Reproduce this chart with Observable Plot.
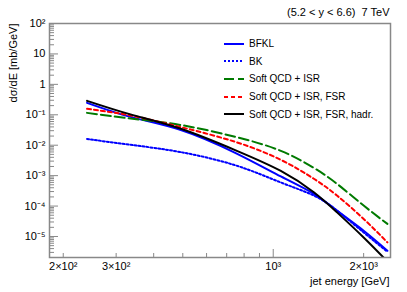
<!DOCTYPE html>
<html><head><meta charset="utf-8">
<script src="https://cdn.jsdelivr.net/npm/d3@7"></script>
<script src="https://cdn.jsdelivr.net/npm/@observablehq/plot@0.6"></script>
<style>
body{margin:0;background:#fff;}
#wrap{position:relative;width:407px;height:292px;font-family:"Liberation Sans",Arial,Helvetica,sans-serif;}
#legend{position:absolute;left:224px;top:35px;font-size:10px;color:#000;}
.row{height:17.6px;display:flex;align-items:center;white-space:nowrap;}
.row svg{margin-right:5px;}
</style></head><body><div id="wrap"><div id="legend"></div></div>
<script>
// jet energy [GeV]
const energy = [240, 335, 490, 750, 1060, 1365, 1630, 2000, 2400];
// dσ/dE [mb/GeV]
const bfkl      = [0.247, 0.0853, 0.0322, 5.53e-3, 9.4e-4, 2.53e-4, 7.1e-5, 1.55e-5, 3.4e-6];
const bk        = [0.016, 0.0103, 5.97e-3, 2.17e-3, 5.97e-4, 2.22e-4, 7.1e-5, 1.36e-5, 3.15e-6];
const softIsr   = [0.1156, 0.0755, 0.0465, 0.0187, 6.53e-3, 1.80e-3, 5.4e-4, 1.04e-4, 2.59e-5];
const softIsrFsr = [0.157, 0.0948, 0.0399, 0.01276, 3.3e-3, 7.9e-4, 2.22e-4, 3.78e-5, 6.4e-6];
const softHadr  = [0.288, 0.103, 0.0353, 6.79e-3, 1.43e-3, 2.85e-4, 6.24e-5, 9.3e-6, 1.5e-6];

const seriesNames = ["BFKL", "BK", "Soft QCD + ISR", "Soft QCD + ISR, FSR", "Soft QCD + ISR, FSR, hadr."];
const seriesValues = [bfkl, bk, softIsr, softIsrFsr, softHadr];
const seriesColors = ["#0000ff", "#0000ff", "#007a00", "#ff0000", "#000000"];
const seriesDash = [null, "2,2", "10,4", "4,3", null];

const yTicks = [1e-5, 1e-4, 1e-3, 1e-2, 1e-1, 1, 10, 100];
const yTickLabels = ["10\u207B\u2075", "10\u207B\u2074", "10\u207B\u00B3", "10\u207B\u00B2", "10\u207B\u00B9", "1", "10", "10\u00B2"];
const yMinor = [];
for (let k = -6; k <= 1; k++) for (let m = 2; m <= 9; m++) { const v = m * Math.pow(10, k); if (v > 2.04e-6 && v < 100) yMinor.push(v); }
const xTicks = [200, 300, 1000, 2000];
const xTickLabels = ["2\u00D710\u00B2", "3\u00D710\u00B2", "10\u00B3", "2\u00D710\u00B3"];
const xMajorTick = [1000];
const xMinor = [200, 300, 400, 500, 600, 700, 800, 900, 2000];

const titleText = "(5.2 < y < 6.6)  7 TeV";
const xLabel = "jet energy [GeV]";
const yLabel = "d\u03C3/dE [mb/GeV]";

const W = 407, H = 292, mL = 49, mR = 17, mT = 23, mB = 35;
const fw = W - mL - mR, fh = H - mT - mB;
const font = '"Liberation Sans",Arial,Helvetica,sans-serif';

const rows = seriesNames.map((name, s) => energy.map((e, i) => ({series: name, energy: e, value: seriesValues[s][i]})));

const lineMarks = rows.map((r, s) => Plot.line(r, {
  x: "energy", y: "value", stroke: seriesColors[s], strokeWidth: 2,
  strokeDasharray: seriesDash[s] || undefined, curve: "natural", clip: true
}));

const chart = Plot.plot({
  width: W, height: H, marginLeft: mL, marginRight: mR, marginTop: mT, marginBottom: mB,
  style: {fontFamily: font, fontSize: "11px", background: "white", color: "black", overflow: "visible"},
  x: {type: "log", domain: [180, 2457]},
  y: {type: "log", domain: [2.04e-6, 100]},
  marks: [
    Plot.tickY(yTicks, {y: d => d, insetRight: fw - 9, stroke: "#888"}),
    Plot.tickY(yMinor, {y: d => d, insetRight: fw - 5, stroke: "#888"}),
    Plot.tickX(xMajorTick, {x: d => d, insetTop: fh - 8, stroke: "#888"}),
    Plot.tickX(xMinor, {x: d => d, insetTop: fh - 4, stroke: "#888"}),
    Plot.axisY({ticks: yTicks, tickSize: 0, tickPadding: 4, tickFormat: d => yTickLabels[yTicks.indexOf(d)], label: null, fontSize: 11}),
    Plot.axisX({ticks: xTicks, tickSize: 0, tickPadding: 5, tickFormat: d => xTickLabels[xTicks.indexOf(d)], label: null, fontSize: 11}),
    ...lineMarks,
    Plot.frame({stroke: "#888", strokeWidth: 1.5}),
    Plot.text([titleText], {text: d => d, frameAnchor: "top-right", textAnchor: "end", lineAnchor: "middle", dx: -1, dy: -11, fontSize: 11}),
    Plot.text([xLabel], {text: d => d, frameAnchor: "bottom-right", textAnchor: "end", lineAnchor: "middle", dx: -1, dy: 24, fontSize: 11}),
    Plot.text([yLabel], {text: d => d, frameAnchor: "top-left", textAnchor: "end", lineAnchor: "middle", rotate: -90, dx: -36, dy: 0, fontSize: 11})
  ]
});
const wrap = document.getElementById("wrap");
wrap.insertBefore(chart, wrap.firstChild);

const legend = document.getElementById("legend");
seriesNames.forEach((name, s) => {
  const row = document.createElement("div");
  row.className = "row";
  row.innerHTML = `<svg width="20" height="6"><line x1="0" y1="3" x2="20" y2="3" stroke="${seriesColors[s]}" stroke-width="2" ${seriesDash[s] ? `stroke-dasharray="${seriesDash[s]}"` : ""}/></svg><span>${name}</span>`;
  legend.appendChild(row);
});
</script>
</body></html>
